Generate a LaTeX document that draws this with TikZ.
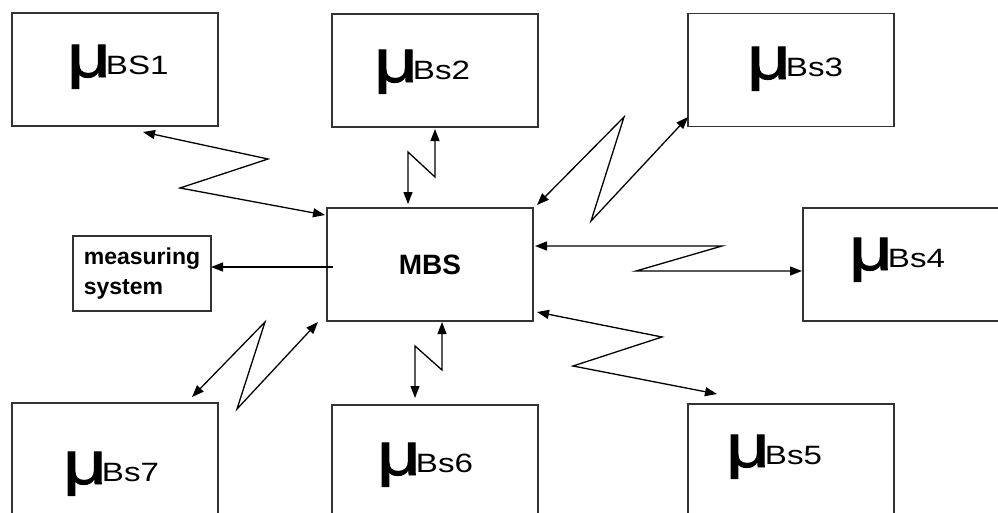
\documentclass[tikz,border=0pt]{standalone}
\usepackage{fontspec}
\setmainfont{Liberation Sans}
\newfontfamily\widefont[FakeStretch=1.25]{Liberation Sans}
\newfontfamily\mufont[FakeStretch=1.25,FakeBold=1.6]{Liberation Sans}
\usetikzlibrary{arrows.meta}
% large micro sign followed by the station name
\newcommand\mulabel[1]{{\mufont\fontsize{61}{61}\selectfont μ}\kern-5pt\raisebox{3pt}{\widefont\fontsize{26.5}{26.5}\selectfont #1}}

\begin{document}
\begin{tikzpicture}[x=1pt,y=-1pt,
  box/.style={draw=black!80, line width=1.5pt, minimum width=206pt, minimum height=113pt, inner sep=0pt, outer sep=0pt},
  lbl/.style={anchor=base west, inner sep=0pt, outer sep=0pt},
  link/.style={line width=1.3pt, {Triangle[length=12pt,width=9pt]}-{Triangle[length=12pt,width=9pt]}},
  oneway/.style={line width=1.3pt, -{Triangle[length=12pt,width=9pt]}}]
\useasboundingbox (0,0) rectangle (998,512);
\clip (0,0) rectangle (998,512);
\fill[white] (0,0) rectangle (998,512);

% stations
\node[box] (bs1) at (115,69.5) {};
\node[box] (bs2) at (435,70.5) {};
\node[box] (bs3) at (791,70) {};
\node[box] (bs4) at (906,264.5) {};
\node[box] (bs5) at (791,460.5) {};
\node[box] (bs6) at (435,461.5) {};
\node[box] (bs7) at (115,459.5) {};
\node[box, font=\bfseries\fontsize{28}{28}\selectfont] (mbs) at (430,264.5) {MBS};
\node[box, minimum width=138pt, minimum height=75pt, align=left,
      font=\bfseries\fontsize{23}{30}\selectfont] (meas) at (142,273.5) {measuring\\system};

% station labels
\node[lbl] (bs1t) at (67,77)  {\mulabel{BS1}};
\node[lbl] (bs2t) at (374,82) {\mulabel{Bs2}};
\node[lbl] (bs3t) at (747,79) {\mulabel{Bs3}};
\node[lbl] (bs4t) at (849,270) {\mulabel{Bs4}};
\node[lbl] (bs5t) at (726,467) {\mulabel{Bs5}};
\node[lbl] (bs6t) at (377,475) {\mulabel{Bs6}};
\node[lbl] (bs7t) at (63,484) {\mulabel{Bs7}};

% radio links: end points and bends
\coordinate (l1a) at (143,132); \coordinate (l1b) at (268,159);
\coordinate (l1c) at (180,188); \coordinate (l1d) at (325,215);
\coordinate (l2a) at (435,129); \coordinate (l2b) at (435,177);
\coordinate (l2c) at (408,152); \coordinate (l2d) at (408,204);
\coordinate (l3a) at (537,205); \coordinate (l3b) at (624,117);
\coordinate (l3c) at (591,221); \coordinate (l3d) at (688,117);
\coordinate (l4a) at (535,246); \coordinate (l4b) at (722,246);
\coordinate (l4c) at (636,271); \coordinate (l4d) at (802,271);
\coordinate (l5a) at (537,312); \coordinate (l5b) at (662,337);
\coordinate (l5c) at (573,366); \coordinate (l5d) at (717,394);
\coordinate (l6a) at (442,322); \coordinate (l6b) at (442,370);
\coordinate (l6c) at (415,346); \coordinate (l6d) at (415,398);
\coordinate (l7a) at (318,322); \coordinate (l7b) at (237,409);
\coordinate (l7c) at (265,322); \coordinate (l7d) at (192,397);
\coordinate (l8a) at (333,267);

\draw[link] (l1a) -- (l1b) -- (l1c) -- (l1d);
\draw[link] (l2a) -- (l2b) -- (l2c) -- (l2d);
\draw[link] (l3a) -- (l3b) -- (l3c) -- (l3d);
\draw[link] (l4a) -- (l4b) -- (l4c) -- (l4d);
\draw[link] (l5a) -- (l5b) -- (l5c) -- (l5d);
\draw[link] (l6a) -- (l6b) -- (l6c) -- (l6d);
\draw[link] (l7a) -- (l7b) -- (l7c) -- (l7d);
\draw[oneway] (l8a) -- (meas.east |- l8a);
\end{tikzpicture}
\end{document}
